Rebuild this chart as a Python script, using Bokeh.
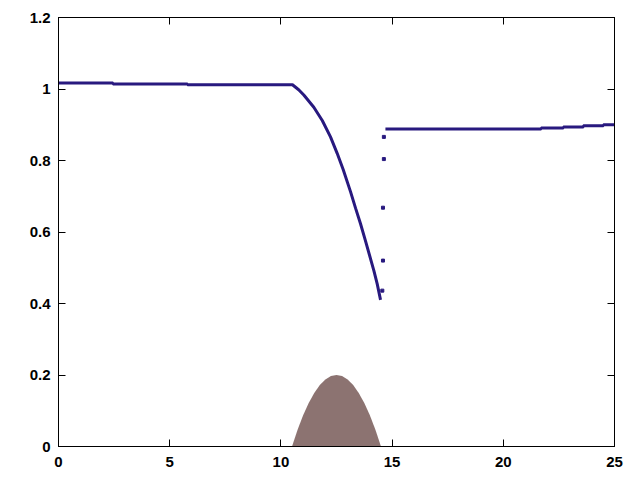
from bokeh.plotting import figure
from bokeh.models import Range1d, FixedTicker, LinearAxis, CustomJSTickFormatter
from bokeh.embed import file_html
from bokeh.resources import INLINE

# Free surface upstream of and along the bump (x in m, h in m)
up_x = [0, 2.45, 2.45, 5.8, 5.8, 10.52, 10.8, 11.03, 11.48, 11.86, 12.23, 12.53,
        12.8, 13.13, 13.36, 13.58, 13.8, 14.18, 14.33, 14.48]
up_h = [1.017, 1.017, 1.014, 1.014, 1.012, 1.012, 0.998, 0.983, 0.949, 0.912, 0.866,
        0.820, 0.775, 0.713, 0.666, 0.623, 0.576, 0.492, 0.455, 0.410]

# Isolated points in the hydraulic jump
jump_x = [14.56, 14.59, 14.59, 14.63, 14.63]
jump_h = [0.436, 0.520, 0.668, 0.804, 0.866]

# Free surface downstream of the jump
down_x = [14.7, 21.7, 21.7, 22.7, 22.7, 23.6, 23.6, 24.5, 24.5, 25]
down_h = [0.888, 0.888, 0.891, 0.891, 0.894, 0.894, 0.897, 0.897, 0.900, 0.900]

# Bottom topography (bump)
bump_x = [10.5, 10.75, 11.0, 11.25, 11.5, 11.75, 12.0, 12.25, 12.5,
          12.75, 13.0, 13.25, 13.5, 13.75, 14.0, 14.25, 14.5]
bump_z = [0.0, 0.047, 0.0875, 0.122, 0.15, 0.172, 0.1875, 0.197, 0.2,
          0.197, 0.1875, 0.172, 0.15, 0.122, 0.0875, 0.047, 0.0]

x_ticks = [0, 5, 10, 15, 20, 25]
y_ticks = [0, 0.2, 0.4, 0.6, 0.8, 1.0, 1.2]
y_tick_labels = ["0", "0.2", "0.4", "0.6", "0.8", "1", "1.2"]

BLUE = "#28197f"
BUMP = "#8c7371"
FONT = "Liberation Sans"

p = figure(width=640, height=480, x_range=Range1d(0, 25), y_range=Range1d(0, 1.2),
           output_backend="svg", toolbar_location=None,
           min_border_left=58, min_border_right=26, min_border_top=17, min_border_bottom=34)
p.xgrid.visible = False
p.ygrid.visible = False
p.outline_line_color = "black"
p.outline_line_width = 1
p.background_fill_color = "white"
p.border_fill_color = "white"

p.varea(x=bump_x, y1=[0] * len(bump_x), y2=bump_z, fill_color=BUMP)
p.line(up_x, up_h, line_color=BLUE, line_width=3)
p.line(down_x, down_h, line_color=BLUE, line_width=3)
p.scatter(jump_x, jump_h, marker="square", size=3, fill_color=BLUE, line_color=BLUE)

bottom = p.xaxis[0]
left = p.yaxis[0]
bottom.ticker = FixedTicker(ticks=x_ticks)
left.ticker = FixedTicker(ticks=y_ticks)
left.major_label_overrides = {t: s for t, s in zip(y_ticks, y_tick_labels)}

blank = CustomJSTickFormatter(code="return '';")
top = LinearAxis(ticker=FixedTicker(ticks=x_ticks), formatter=blank)
right = LinearAxis(ticker=FixedTicker(ticks=y_ticks), formatter=blank)
p.add_layout(top, "above")
p.add_layout(right, "right")

for ax in [bottom, left, top, right]:
    ax.major_tick_in = 7
    ax.major_tick_out = 0
    ax.minor_tick_in = 0
    ax.minor_tick_out = 0
    ax.axis_line_color = "black"
    ax.major_tick_line_color = "black"
    ax.major_label_text_font = FONT
    ax.major_label_text_font_style = "bold"
    ax.major_label_text_font_size = "15px"
    ax.major_label_text_color = "black"

for ax in [top, right]:
    ax.major_label_standoff = 0

bottom.major_label_standoff = 10
left.major_label_standoff = 8

open("out.html", "w").write(file_html(p, INLINE))
